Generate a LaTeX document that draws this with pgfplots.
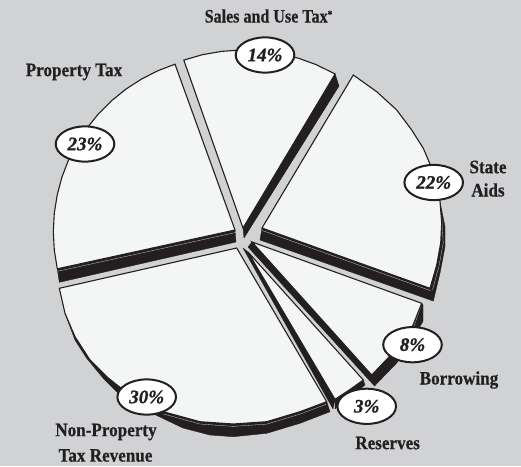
\documentclass[border=0pt]{standalone}
\usepackage{fontspec}
\usepackage{graphicx}
\usepackage{pgfplots}
\pgfplotsset{compat=1.18}
\setmainfont{Liberation Serif}
\newfontfamily\labfont{Liberation Serif}[UprightFont=* Bold,FakeBold=0.6]
\newfontfamily\pctfont{Liberation Serif}[UprightFont=* Bold Italic,FakeBold=1.0]
\definecolor{bgc}{HTML}{D1D2D4}
\definecolor{facec}{HTML}{F4F6F5}
\definecolor{inkc}{HTML}{231F20}
\newcommand{\lab}[1]{\scalebox{0.9}[1]{\fontsize{19}{19}\selectfont\labfont #1}}
\newcommand{\pct}[1]{\fontsize{19}{19}\selectfont\pctfont #1\%}
\tikzset{
  face/.style={fill=facec,draw=inkc,line width=1.1pt,line join=miter},
  band/.style={fill=inkc,draw=inkc,line width=0.4pt,line join=round},
  hair/.style={draw=bgc,line width=0.3pt},
  tag/.style={text=inkc,inner sep=0pt,anchor=center},
  oval/.style={fill=white,draw=inkc,line width=2pt}
}
\newcommand{\valoval}[3]{%
  \draw[oval] (axis cs:#1,#2) ellipse [x radius=29.3pt,y radius=17.6pt];
  \node[tag] at (axis cs:#1,#2) {\pct{#3}};}
\begin{document}
\begin{tikzpicture}
\begin{axis}[
  width=521pt,height=466pt,scale only axis,
  xmin=0,xmax=521,ymin=0,ymax=466,y dir=reverse,
  hide axis,clip=false
]
% background
\addplot[fill=bgc,draw=none] coordinates {(0,0)(521,0)(521,466)(0,466)} -- cycle;

% side bands
\addplot[band] coordinates {(57.3,268.8)(59.3,282.3)(236,242)(235,230)} -- cycle;
\addplot[band] coordinates {(335.1,74)(339,86)(244,238)(243,228)} -- cycle;
\addplot[band] coordinates {(430,288.3)(433.3,301)(260,240)(262,228)} -- cycle;
\addplot[band] coordinates {(440,201.7)(445,226.7)(445,246.7)(440,273)(433.3,301)(430,288.3)(436.7,265)(440.7,243)(441.7,223)} -- cycle;
\addplot[band] coordinates {(252,242)(371.7,375)(374.5,386)(248,247)} -- cycle;
\addplot[band] coordinates {(421.7,303.3)(423,305)(423,321.3)(410,343)(396.7,363)(374.5,386)(371.7,375)(388,358)(401,343)(413,325)} -- cycle;
\addplot[band] coordinates {(248,252)(335,399.3)(333,409)(243,248)} -- cycle;
\addplot[band] coordinates {(363.3,380)(365,385)(335,409)(335,399.3)} -- cycle;
\addplot[band] coordinates {(65,313.3)(75,340)(86.7,358.3)(103.3,378.3)(116.7,391.7)(135,405)(160,417)(183,428)(210,435)(233.3,436.7)(266.7,433.3)(300,423.3)(330,411.7)(326.7,401.7)(300,411.7)(266.7,421.7)(233.3,424)(200,421.7)(163.3,411.7)(140,401)(118.3,386)(106.7,376.7)(90,360)(75,336.7)} -- cycle;

% light hairlines inside the bands
\addplot[hair] coordinates {(58,271.2)(236,232.4)};
\addplot[hair] coordinates {(430.6,290.7)(262,230.4)};
\addplot[hair] coordinates {(441.7,216)(443.2,243)(439.1,265.5)(432.5,290)};
\addplot[hair] coordinates {(163.5,414)(200,424)(233.3,426.4)(266.7,424.1)(300,414.1)(326,404.3)};
\addplot[hair] coordinates {(421,306)(414,326)};

% Property Tax 23
\addplot[face] coordinates {(235,230)(175,64.2)(157.7,70.8)(141.3,79.2)(125.8,89.2)(111.5,100.8)(98.5,113.8)(86.9,128.1)(76.9,143.6)(68.5,160)(61.9,177.2)(57.2,195)(54.3,213.2)(53.3,231.6)(54.3,250)(57.3,268.8)} -- cycle;
% Sales and Use Tax 14
\addplot[face] coordinates {(243,228)(183.8,60.1)(202.4,54.7)(221.4,51.4)(240.8,50)(260.1,50.7)(279.3,53.4)(298.1,58.1)(316.3,64.7)(335.1,74)} -- cycle;
% State Aids 22
\addplot[face] coordinates {(262,228)(353.3,75)(376.7,91.7)(396.7,110)(411.7,130)(423.3,148.3)(430,164)(436,182)(440,201.7)(441.7,223)(440.7,243)(436.7,265)(430,288.3)} -- cycle;
% Borrowing 8
\addplot[face] coordinates {(252,242)(421.7,303.3)(413,325)(401,343)(388,358)(371.7,375)} -- cycle;
% Reserves 3
\addplot[face] coordinates {(248,252)(363.3,380)(350,389.5)(335,399.3)} -- cycle;
% Non-Property Tax Revenue 30
\addplot[face] coordinates {(236.7,248)(59.3,288.3)(65,313.3)(75,336.7)(90,360)(106.7,376.7)(118.3,386)(140,401)(163.3,411.7)(200,421.7)(233.3,424)(266.7,421.7)(300,411.7)(326.7,401.7)} -- cycle;

% value ovals
\valoval{265}{55}{14}
\valoval{85}{144}{23}
\valoval{433.7}{182.5}{22}
\valoval{146.7}{397}{30}
\valoval{412.5}{344.7}{8}
\valoval{366.7}{406.3}{3}

% labels
\node[tag] at (axis cs:268.5,16) {\scalebox{0.845}[1]{\fontsize{19}{19}\selectfont\labfont Sales and Use Tax\raisebox{4.5pt}{\fontsize{11}{11}\selectfont *}}};
\node[tag] at (axis cs:74,72) {\lab{Property Tax}};
\node[tag] at (axis cs:488,167) {\lab{State}};
\node[tag] at (axis cs:488,190) {\lab{Aids}};
\node[tag] at (axis cs:459,380) {\lab{Borrowing}};
\node[tag] at (axis cs:387.6,443) {\lab{Reserves}};
\node[tag] at (axis cs:106,432) {\lab{Non-Property}};
\node[tag] at (axis cs:105.5,455.5) {\lab{Tax Revenue}};
\end{axis}
\end{tikzpicture}
\end{document}
